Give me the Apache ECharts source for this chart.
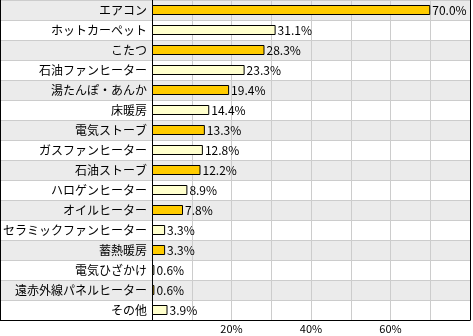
<!DOCTYPE html>
<html>
<head>
<meta charset="utf-8">
<script src="https://cdn.jsdelivr.net/npm/echarts@6/dist/echarts.min.js"></script>
<style>html,body{margin:0;padding:0;background:#fff;}#c{width:473px;height:336px;}</style>
</head>
<body>
<div id="c"></div>
<script>
const categories = ['エアコン','ホットカーペット','こたつ','石油ファンヒーター','湯たんぽ・あんか','床暖房','電気ストーブ','ガスファンヒーター','石油ストーブ','ハロゲンヒーター','オイルヒーター','セラミックファンヒーター','蓄熱暖房','電気ひざかけ','遠赤外線パネルヒーター','その他'];
const values = [70.0, 31.1, 28.3, 23.3, 19.4, 14.4, 13.3, 12.8, 12.2, 8.9, 7.8, 3.3, 3.3, 0.6, 0.6, 3.9];
const tickLabels = [20, 40, 60];

const font = '"Noto Sans CJK JP", "Noto Sans", sans-serif';
const chart = echarts.init(document.getElementById('c'), null, {renderer: 'canvas'});
chart.setOption({
  animation: false,
  backgroundColor: '#fff',
  grid: [
    {left: 0, top: 0, width: 152, height: 320},
    {left: 152, top: 0, width: 320, height: 320}
  ],
  xAxis: [
    {gridIndex: 0, type: 'value', min: 0, max: 1, axisLabel: {show: false}, axisTick: {show: false}, splitLine: {show: false},
     axisLine: {show: true, onZero: false, lineStyle: {color: '#000', width: 1}}},
    {gridIndex: 1, type: 'value', min: 0, max: 80, interval: 10,
     axisLine: {show: true, onZero: false, lineStyle: {color: '#000', width: 1}},
     axisTick: {show: false},
     splitLine: {show: true, lineStyle: {color: '#cccccc', width: 1}},
     axisLabel: {margin: 3, color: '#000', fontSize: 11, fontFamily: font,
       formatter: v => tickLabels.indexOf(v) >= 0 ? v + '%' : ''}}
  ],
  yAxis: [
    {gridIndex: 0, type: 'category', data: categories, inverse: true, position: 'left',
     axisLabel: {show: false}, axisTick: {show: false},
     axisLine: {show: true, lineStyle: {color: '#000', width: 1}},
     splitLine: {show: true, lineStyle: {color: '#cccccc'}},
     splitArea: {show: true, areaStyle: {color: ['#ebebeb', '#ffffff']}}},
    {gridIndex: 1, type: 'category', data: categories, inverse: true, position: 'left',
     axisTick: {show: false},
     axisLine: {show: true, lineStyle: {color: '#000', width: 1}},
     axisLabel: {margin: 5, color: '#000', fontSize: 12, fontFamily: font},
     splitLine: {show: true, lineStyle: {color: '#cccccc'}},
     splitArea: {show: true, areaStyle: {color: ['#ebebeb', '#ffffff']}}},
    {gridIndex: 1, type: 'category', data: categories, inverse: true, position: 'right',
     axisTick: {show: false}, axisLabel: {show: false},
     axisLine: {show: true, lineStyle: {color: '#000', width: 1}},
     splitLine: {show: false}}
  ],
  series: [{
    type: 'bar',
    xAxisIndex: 1,
    yAxisIndex: 1,
    data: values,
    barWidth: 10,
    itemStyle: {
      color: p => (p.dataIndex % 2 === 0 ? '#ffcc00' : '#ffffcc'),
      borderColor: '#000',
      borderWidth: 1
    },
    label: {
      show: true, position: 'right', distance: 2, color: '#000', fontSize: 12, fontFamily: font,
      formatter: p => p.value.toFixed(1) + '%'
    }
  }]
});
</script>
</body>
</html>
